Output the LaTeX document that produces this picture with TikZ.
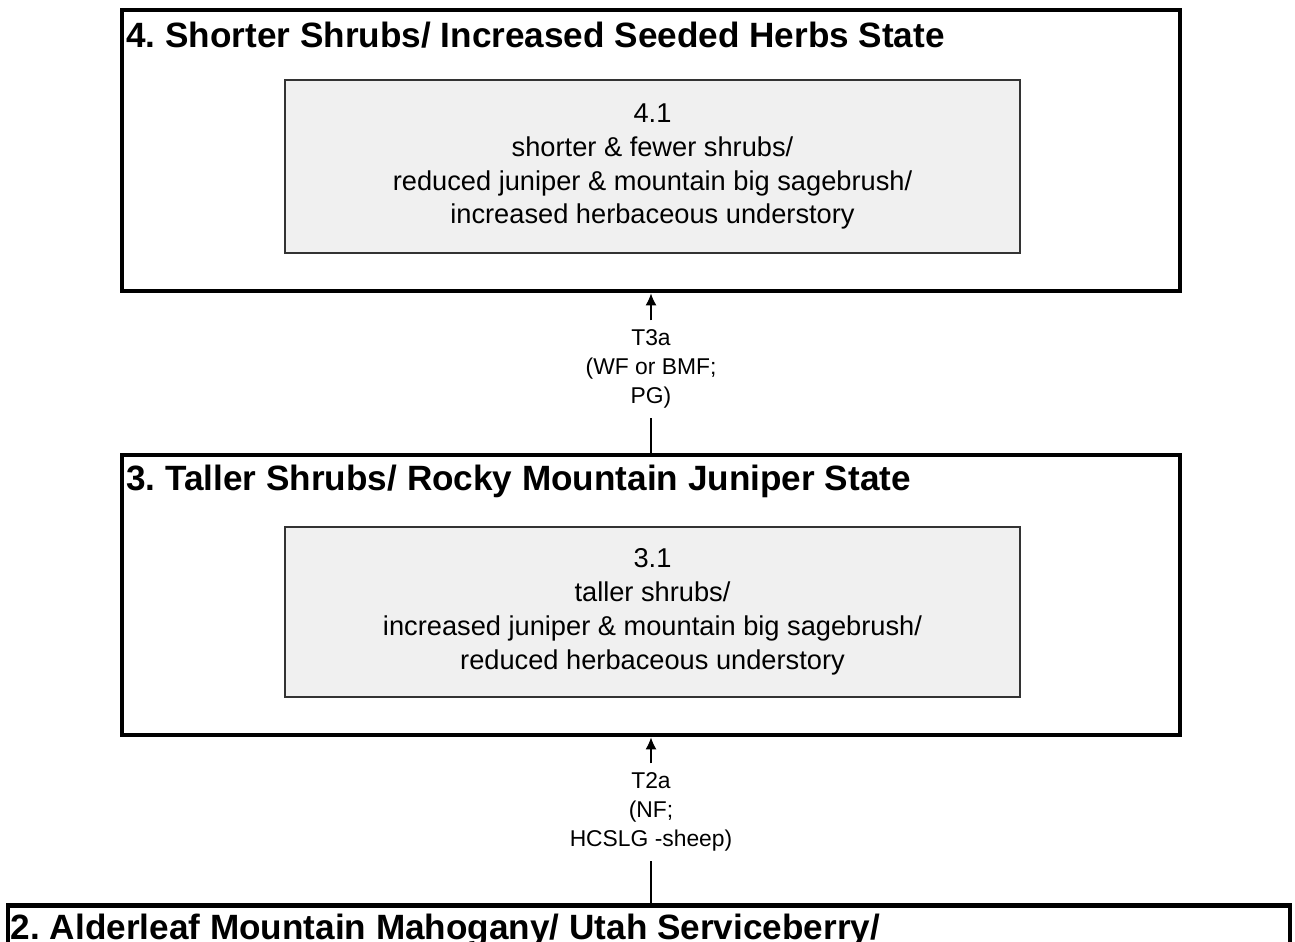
\documentclass[tikz,border=0pt]{standalone}
\usepackage{fontspec}
\setmainfont{Liberation Sans}
\usepackage{tikz}
\usetikzlibrary{positioning,calc,arrows.meta}

\tikzset{
    statebox/.style={draw, line width=2.8pt, minimum width=21.16cm},
    phasebox/.style={draw=black!80, line width=0.9pt, fill=black!6, minimum width=14.7cm, align=center, font=\fontsize{15.5}{19.3}\selectfont},
    statetitle/.style={anchor=west, inner sep=0pt, font=\bfseries\fontsize{20}{22}\selectfont},
    translabel/.style={align=center, inner sep=1.8mm, font=\fontsize{13}{16.5}\selectfont},
    transarrow/.style={-{Latex[length=2.4mm,width=2.2mm]}, line width=0.7pt}
}

\begin{document}
\frenchspacing
\begin{tikzpicture}
    \useasboundingbox (0,0) rectangle (25.9,-18.82);
    \clip (0,0) rectangle (25.9,-18.82);

    % State 4
    \node[statebox, minimum height=5.62cm] (state4) at (13.02,-3.01) {};
    \node[statetitle] (title4) at ($(state4.north west)+(0.13,-0.56)$) {4. Shorter Shrubs/ Increased Seeded Herbs State};
    \node[phasebox, minimum height=3.46cm] (phase41) at (13.05,-3.33)
        {4.1\\shorter \& fewer shrubs/\\reduced juniper \& mountain big sagebrush/\\increased herbaceous understory};

    % State 3
    \node[statebox, minimum height=5.6cm] (state3) at (13.02,-11.9) {};
    \node[statetitle] (title3) at ($(state3.north west)+(0.13,-0.58)$) {3. Taller Shrubs/ Rocky Mountain Juniper State};
    \node[phasebox, minimum height=3.4cm] (phase31) at (13.05,-12.24)
        {3.1\\taller shrubs/\\increased juniper \& mountain big sagebrush/\\reduced herbaceous understory};

    % State 2 (cut off at the bottom)
    \node[draw, line width=2.8pt, minimum width=25.64cm, minimum height=3cm, anchor=north] (state2) at (12.98,-18.06) {};
    \node[statetitle] (title2) at ($(state2.north west)+(0.1,-0.54)$) {2. Alderleaf Mountain Mahogany/ Utah Serviceberry/};

    % Transitions
    \node[translabel] (t3a) at (13.02,-7.38) {T3a\\(WF or BMF;\\PG)};
    \draw[line width=0.7pt] (state3.north) -- (t3a.south);
    \draw[transarrow] (t3a.north) -- (state4.south);

    \node[translabel] (t2a) at (13.02,-16.24) {T2a\\(NF;\\HCSLG -sheep)};
    \draw[line width=0.7pt] (state2.north -| t2a) -- (t2a.south);
    \draw[transarrow] (t2a.north) -- (state3.south);
\end{tikzpicture}
\end{document}
